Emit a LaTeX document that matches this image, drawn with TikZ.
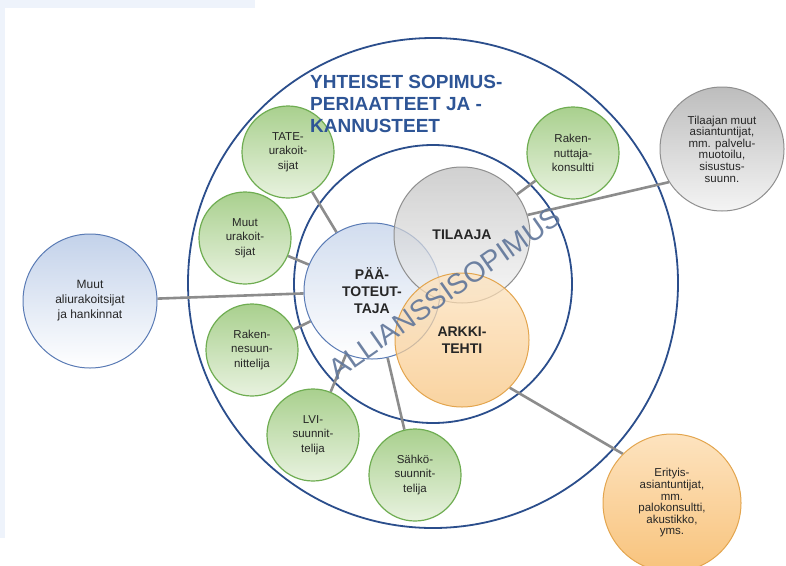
\documentclass[tikz,border=0pt]{standalone}
\usepackage{fontspec}
\setmainfont{Liberation Sans}
\usetikzlibrary{shapes.geometric}
\definecolor{ringblue}{HTML}{2B4E8C}
\definecolor{connc}{HTML}{8C8C8C}
\definecolor{bgstrip}{HTML}{EEF3FB}
\definecolor{gtop}{HTML}{A9D08E}
\definecolor{gbot}{HTML}{E8F2DF}
\definecolor{gborder}{HTML}{6FAD52}
\definecolor{btop}{HTML}{C3D2EA}
\definecolor{bbot}{HTML}{FFFFFF}
\definecolor{bborder}{HTML}{5A7BB5}
\definecolor{graytop}{HTML}{BDBDBD}
\definecolor{graybot}{HTML}{F4F4F4}
\definecolor{grayborder}{HTML}{8F8F8F}
\definecolor{otop}{HTML}{FDE3BF}
\definecolor{obot}{HTML}{F8C37C}
\definecolor{oborder}{HTML}{E3A54E}
\definecolor{titleblue}{HTML}{2E5596}
\definecolor{allfill}{HTML}{5F7599}
\definecolor{txt}{HTML}{262626}
\pgfdeclarelayer{bg}
\pgfsetlayers{bg,main}
\tikzset{
  ringc/.style={circle, draw=ringblue, line width=1.8pt, inner sep=0pt},
  connline/.style={draw=connc, line width=2.6pt},
  gnode/.style={circle, draw=gborder, line width=1.2pt, top color=gtop, bottom color=gbot,
    minimum size=92pt, inner sep=0pt, align=center, text=txt,
    font=\fontsize{11.5}{14.5}\selectfont},
  bignode/.style={circle, line width=1pt, inner sep=0pt, align=center, text=txt},
  bluenode/.style={bignode, draw=bborder, top color=btop, bottom color=bbot},
  graynode/.style={bignode, draw=grayborder, top color=graytop, bottom color=graybot},
  orangenode/.style={bignode, draw=oborder, top color=otop, bottom color=obot},
  corefont/.style={font=\bfseries\fontsize{14}{17}\selectfont},
  smallfont/.style={font=\fontsize{11.5}{11.6}\selectfont}
}
\begin{document}
\begin{tikzpicture}[x=1pt,y=-1pt]
\useasboundingbox (0,0) rectangle (786,565);
\begin{pgfonlayer}{bg}
\fill[white] (0,0) rectangle (786,565);
\fill[bgstrip] (0,0) rectangle (255,8);
\fill[bgstrip] (0,0) rectangle (5,538);
\node[ringc, minimum size=490pt] (outer) at (433,283) {};
\node[ringc, minimum size=278pt] (inner) at (433,284) {};
\end{pgfonlayer}

% green nodes
\node[gnode] (tate) at (288,152) {TATE-\\urakoit-\\sijat};
\node[gnode] (muuturak) at (245,238) {Muut\\urakoit-\\sijat};
\node[gnode] (rakkons) at (573,153) {Raken-\\nuttaja-\\konsultti};
\node[gnode] (raksuun) at (252,350) {Raken-\\nesuun-\\nittelija};
\node[gnode] (lvi) at (313,435) {LVI-\\suunnit-\\telija};
\node[gnode] (sahko) at (415,475) {Sähkö-\\suunnit-\\telija};

% core nodes
\node[bluenode, corefont, minimum size=136pt, fill opacity=0.75, text opacity=1] (paa) at (372,291) {PÄÄ-\\TOTEUT-\\TAJA};
\node[graynode, corefont, minimum size=136pt, fill opacity=0.7, text opacity=1] (tilaaja) at (462,235) {TILAAJA};
\node[orangenode, corefont, minimum size=134pt, fill opacity=0.72, text opacity=1] (arkki) at (462,340) {ARKKI-\\TEHTI};

% outside nodes
\node[bluenode, minimum size=134pt, font=\fontsize{12}{15}\selectfont] (muutali) at (90,301) {Muut\\aliurakoitsijat\\ja hankinnat};
\node[graynode, smallfont, minimum size=124pt] (tm) at (722,149) {Tilaajan muut\\asiantuntijat,\\mm. palvelu-\\muotoilu,\\sisustus-\\suunn.};
\node[orangenode, smallfont, minimum size=138pt] (erit) at (672,503) {Erityis-\\asiantuntijat,\\mm.\\palokonsultti,\\akustikko,\\yms.};

% connectors
\begin{pgfonlayer}{bg}
\draw[connline] (tate) -- (paa);
\draw[connline] (muuturak) -- (paa);
\draw[connline] (rakkons) -- (tilaaja);
\draw[connline] (muutali) -- (paa);
\draw[connline] (raksuun) -- (paa);
\draw[connline] (lvi) -- (paa);
\draw[connline] (sahko) -- (paa);
\draw[connline] (tilaaja.17) -- (tm.212);
\draw[connline] (arkki.-45) -- (erit.135);
\end{pgfonlayer}

% title
\node[anchor=north west, align=left, inner sep=0pt, text=titleblue,
  font=\bfseries\fontsize{19}{22}\selectfont] (title) at (310,75)
  {YHTEISET SOPIMUS-\\PERIAATTEET JA -\\KANNUSTEET};

% alliance text
\node[rotate=35, inner sep=0pt, text=allfill, text opacity=0.9,
  font=\fontsize{28.5}{30}\selectfont] (allianssi) at (445,293) {ALLIANSSISOPIMUS};
\end{tikzpicture}
\end{document}
